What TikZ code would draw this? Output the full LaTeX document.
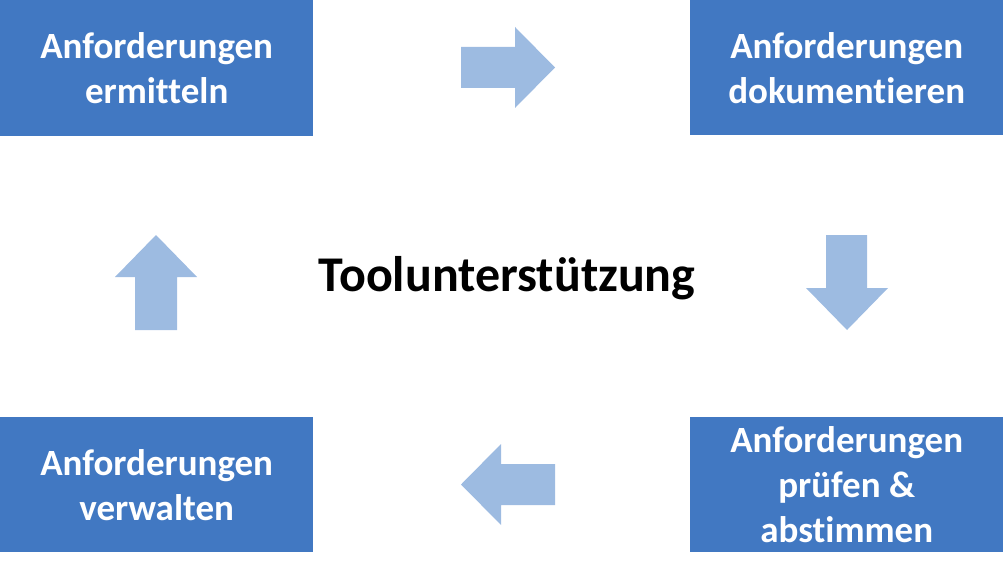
\documentclass[tikz,border=0pt]{standalone}
\usepackage{fontspec}
\setmainfont[Ligatures=NoCommon]{Carlito}
\definecolor{boxblue}{HTML}{4178C2}
\definecolor{arrblue}{HTML}{9DBBE1}
\begin{document}
\begin{tikzpicture}[x=1pt,y=-1pt,
  box/.style={fill=boxblue,draw=none,text=white,font=\fontsize{37}{45}\selectfont\bfseries,align=center,anchor=north west,inner sep=0pt},
  arr/.style={fill=arrblue,draw=none}]
\useasboundingbox (0,0) rectangle (1003,575);
\node[box,minimum width=313pt,minimum height=136pt] (tl) at (0,0) {Anforderungen\\ermitteln};
\node[box,minimum width=313pt,minimum height=135pt] (tr) at (690,0) {Anforderungen\\dokumentieren};
\node[box,minimum width=313pt,minimum height=135pt] (bl) at (0,417) {Anforderungen\\verwalten};
\node[box,minimum width=313pt,minimum height=135pt] (br) at (690,417) {Anforderungen\\prüfen \&\\abstimmen};
\node[font=\fontsize{50}{60}\selectfont\bfseries] (c) at (507,278) {Toolunterstützung};
\fill[arr] (461,47) -- (515,47) -- (515,27) -- (555,67.5) -- (515,108) -- (515,88) -- (461,88) -- cycle;
\fill[arr] (826,235) -- (867,235) -- (867,288) -- (888,288) -- (847,330) -- (806,288) -- (826,288) -- cycle;
\fill[arr] (555,464) -- (501,464) -- (501,444) -- (461,484.5) -- (501,525) -- (501,505) -- (555,505) -- cycle;
\fill[arr] (135,330) -- (177,330) -- (177,277) -- (197,277) -- (156,235) -- (115,277) -- (135,277) -- cycle;
\end{tikzpicture}
\end{document}
